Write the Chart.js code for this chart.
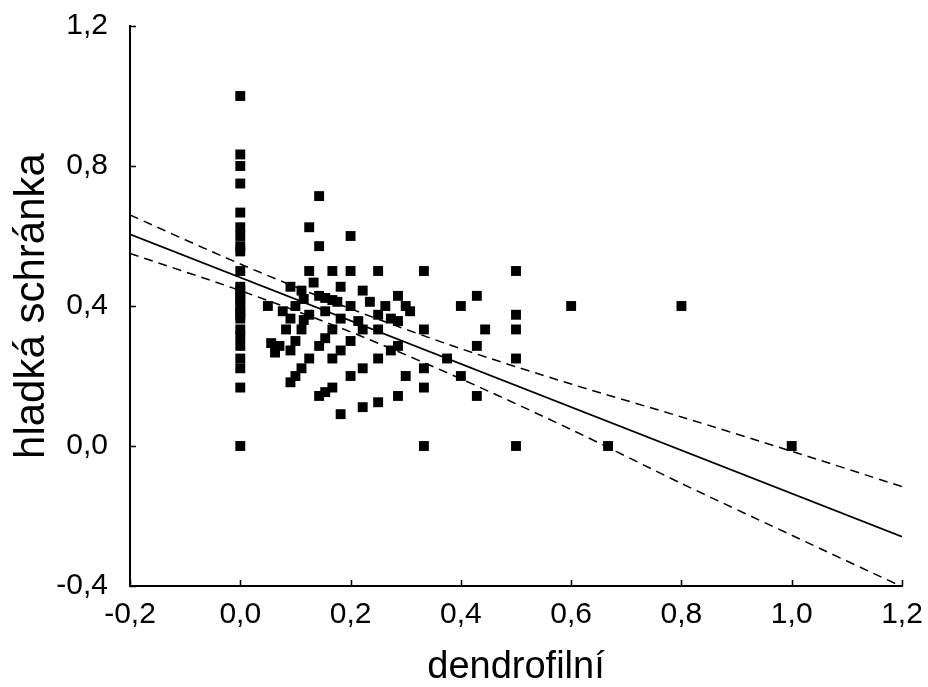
<!DOCTYPE html>
<html>
<head>
<meta charset="utf-8">
<script src="https://cdn.jsdelivr.net/npm/chart.js@4.4.1/dist/chart.umd.min.js"></script>
<style>
    body { margin: 0; background: #fff; }
    #chartArea { width: 928px; height: 687px; }
</style>
</head>
<body>
<div id="chartArea"><canvas id="chartArea-canvas"></canvas></div>
<script>
    // body sizes: x = dendrofilní, y = hladká schránka
    const dendrofilni = [
        0, 0, 0, 0, 0, 0, 0, 0, 0, 0, 0, 0, 0, 0, 0, 0, 0, 0, 0, 0, 0, 0, 0, 0, 0,
        0.05, 0.056, 0.071, 0.063, 0.077, 0.083, 0.091, 0.091, 0.091, 0.091,
        0.1, 0.1, 0.1, 0.111, 0.111, 0.111, 0.115, 0.115,
        0.125, 0.125, 0.125, 0.125, 0.133,
        0.143, 0.143, 0.143, 0.143, 0.143, 0.154, 0.154, 0.154, 0.154,
        0.167, 0.167, 0.167, 0.167, 0.167, 0.176,
        0.182, 0.182, 0.182, 0.182,
        0.2, 0.2, 0.2, 0.2, 0.2, 0.214, 0.222, 0.222, 0.222, 0.222, 0.235,
        0.25, 0.25, 0.25, 0.25, 0.25, 0.263, 0.273, 0.273,
        0.286, 0.286, 0.286, 0.286, 0.3, 0.3, 0.308,
        0.333, 0.333, 0.333, 0.333, 0.333, 0.375, 0.4, 0.4,
        0.429, 0.429, 0.429, 0.444,
        0.5, 0.5, 0.5, 0.5, 0.5, 0.6, 0.667, 0.8, 1.0
    ];
    const hladkaSchranka = [
        1.0, 0.833, 0.8, 0.75, 0.667, 0.625, 0.6, 0.571, 0.556, 0.5, 0.455, 0.444, 0.429, 0.417, 0.4,
        0.385, 0.375, 0.364, 0.333, 0.313, 0.286, 0.25, 0.222, 0.167, 0,
        0.4, 0.294, 0.286, 0.267, 0.385, 0.333, 0.455, 0.364, 0.273, 0.182,
        0.4, 0.3, 0.2, 0.444, 0.333, 0.222, 0.42, 0.36,
        0.625, 0.5, 0.375, 0.25, 0.467,
        0.714, 0.571, 0.429, 0.286, 0.143, 0.423, 0.385, 0.308, 0.154,
        0.5, 0.417, 0.333, 0.25, 0.167, 0.412,
        0.455, 0.364, 0.273, 0.091,
        0.6, 0.5, 0.4, 0.3, 0.2, 0.357, 0.444, 0.333, 0.222, 0.111, 0.412,
        0.5, 0.375, 0.333, 0.25, 0.125, 0.4, 0.364, 0.273,
        0.429, 0.357, 0.286, 0.143, 0.4, 0.2, 0.385,
        0.5, 0.333, 0.222, 0.167, 0, 0.25, 0.4, 0.2,
        0.429, 0.286, 0.143, 0.333,
        0.5, 0.375, 0.333, 0.25, 0, 0.4, 0, 0.4, 0
    ];

    // regression line ends and 95% bands
    const fitX = [-0.2, 1.2];
    const fitY = [0.605, -0.259];
    const bandX = [-0.2, 0, 0.2, 0.4, 0.6, 0.8, 1.0, 1.2];
    const upperBand = [0.66, 0.52, 0.392, 0.278, 0.177, 0.083, -0.015, -0.116];
    const lowerBand = [0.55, 0.444, 0.326, 0.192, 0.047, -0.107, -0.255, -0.402];

    const xTicks = [-0.2, 0, 0.2, 0.4, 0.6, 0.8, 1.0, 1.2];
    const yTicks = [-0.4, 0, 0.4, 0.8, 1.2];

    function pairs(xs, ys) {
        return xs.map((x, i) => ({x: x, y: ys[i]}));
    }

    function czech(value) {
        if (Math.abs(value) < 1e-9) value = 0;
        return value.toFixed(1).replace('.', ',');
    }

    // tick marks point into the plot
    const innerTicks = {
        id: 'innerTicks',
        afterDraw(chart) {
            const ctx = chart.ctx;
            const xs = chart.scales.x, ys = chart.scales.y;
            ctx.save();
            ctx.strokeStyle = '#000';
            ctx.lineWidth = 1.5;
            ctx.beginPath();
            xTicks.forEach(v => {
                const px = Math.round(xs.getPixelForValue(v)) + 0.5;
                ctx.moveTo(px, ys.bottom);
                ctx.lineTo(px, ys.bottom - 6);
            });
            yTicks.forEach(v => {
                const py = Math.round(ys.getPixelForValue(v)) + 0.5;
                ctx.moveTo(xs.left, py);
                ctx.lineTo(xs.left + 6, py);
            });
            ctx.stroke();
            ctx.restore();
        }
    };

    const canvas = document.getElementById('chartArea-canvas');
    const chartJs = new Chart(canvas, {
        type: 'scatter',
        data: {
            datasets: [
                {
                    label: 'upper',
                    data: pairs(bandX, upperBand),
                    showLine: true,
                    borderColor: '#000',
                    borderWidth: 1.5,
                    borderDash: [9, 6],
                    pointRadius: 0,
                    tension: 0.3,
                },
                {
                    label: 'lower',
                    data: pairs(bandX, lowerBand),
                    showLine: true,
                    borderColor: '#000',
                    borderWidth: 1.5,
                    borderDash: [9, 6],
                    pointRadius: 0,
                    tension: 0.3,
                },
                {
                    label: 'fit',
                    data: pairs(fitX, fitY),
                    showLine: true,
                    borderColor: '#000',
                    borderWidth: 1.8,
                    pointRadius: 0,
                },
                {
                    label: 'data',
                    data: pairs(dendrofilni, hladkaSchranka),
                    pointStyle: 'rect',
                    pointRadius: 7,
                    pointHoverRadius: 7,
                    borderWidth: 0,
                    backgroundColor: '#000',
                }
            ]
        },
        options: {
            responsive: true,
            maintainAspectRatio: false,
            animation: false,
            layout: { padding: { top: 26, right: 26, left: 0, bottom: 0 } },
            plugins: {
                legend: { display: false },
                tooltip: { enabled: false }
            },
            scales: {
                x: {
                    type: 'linear',
                    min: -0.2,
                    max: 1.2,
                    afterBuildTicks: scale => { scale.ticks = xTicks.map(v => ({value: v})); },
                    afterFit: scale => {
                        scale.height = 101;
                        scale.paddingLeft = 0;
                        scale.paddingRight = 0;
                    },
                    grid: { display: false, drawTicks: false },
                    border: { display: true, color: '#000', width: 2 },
                    ticks: {
                        color: '#000',
                        padding: 11,
                        maxRotation: 0,
                        font: { family: 'Liberation Sans', size: 30 },
                        callback: value => czech(value)
                    },
                    title: {
                        display: true,
                        text: 'dendrofilní',
                        color: '#000',
                        padding: { top: 0, bottom: 0 },
                        font: { family: 'Liberation Sans', size: 38, lineHeight: 1 }
                    }
                },
                y: {
                    type: 'linear',
                    min: -0.4,
                    max: 1.2,
                    afterBuildTicks: scale => { scale.ticks = yTicks.map(v => ({value: v})); },
                    afterFit: scale => {
                        scale.width = 130;
                        scale.paddingTop = 0;
                        scale.paddingBottom = 0;
                    },
                    grid: { display: false, drawTicks: false },
                    border: { display: true, color: '#000', width: 2 },
                    ticks: {
                        color: '#000',
                        padding: 22,
                        font: { family: 'Liberation Sans', size: 30 },
                        callback: value => czech(value)
                    },
                    title: {
                        display: true,
                        text: 'hladká schránka',
                        color: '#000',
                        padding: { top: 11, bottom: 0 },
                        font: { family: 'Liberation Sans', size: 42, lineHeight: 1 }
                    }
                }
            }
        },
        plugins: [innerTicks]
    });
</script>
</body>
</html>
